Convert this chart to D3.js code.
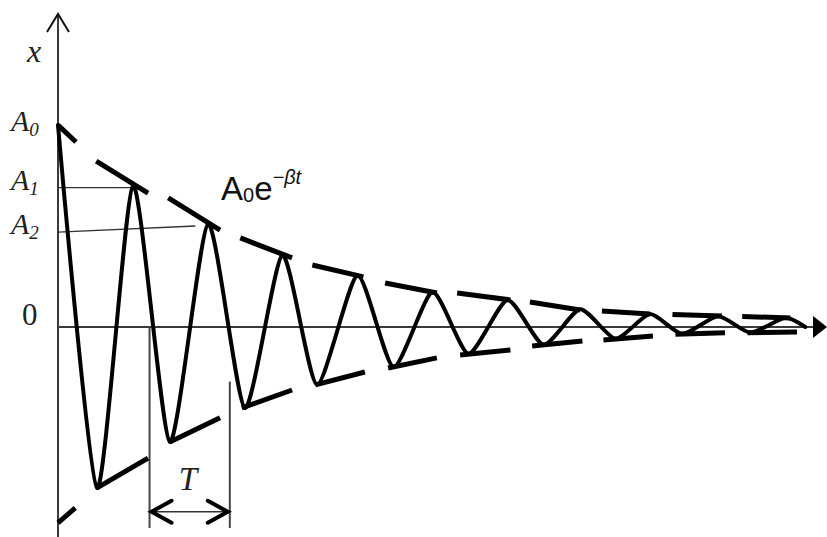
<!DOCTYPE html>
<html>
<head>
<meta charset="utf-8">
<script src="https://cdn.jsdelivr.net/npm/d3@7"></script>
<style>
  html, body { margin: 0; padding: 0; background: #fff; }
  svg { display: block; }
  .serif { font-family: "Liberation Serif", "DejaVu Serif", serif; }
  .sans { font-family: "Liberation Sans", Arial, sans-serif; }
</style>
</head>
<body>
<svg id="chart" width="827" height="537"></svg>
<script>
// Damped oscillation x(t): extrema of the displacement curve
const peakT   = [0, 1.0, 2.0, 2.99, 3.99, 4.99, 5.99, 6.96, 7.89, 8.8, 9.69];
const peakX   = [1.0, 0.70, 0.51, 0.355, 0.255, 0.173, 0.134, 0.088, 0.064, 0.053, 0.046];
const troughT = [0.52, 1.49, 2.49, 3.45, 4.47, 5.47, 6.47, 7.43, 8.32, 9.23, 9.96];
const troughX = [-0.797, -0.569, -0.401, -0.285, -0.198, -0.132, -0.088, -0.058, -0.034, -0.028, 0.0];

// Envelope ±A0·e^(−βt), drawn as dash segments [t0, x0, t1, x1]
const upperDashes = [
  [0, 1.0, 0.24, 0.916],
  [0.51, 0.822, 1.2, 0.663],
  [1.47, 0.639, 2.16, 0.48],
  [2.43, 0.441, 3.12, 0.342],
  [3.39, 0.307, 4.07, 0.248],
  [4.36, 0.218, 5.05, 0.168],
  [5.32, 0.168, 6.03, 0.134],
  [6.29, 0.124, 6.96, 0.084],
  [7.25, 0.079, 7.89, 0.064],
  [8.19, 0.062, 8.85, 0.054],
  [9.12, 0.052, 9.76, 0.045]
];
const lowerDashes = [
  [0, -0.97, 0.23, -0.896],
  [0.52, -0.797, 1.2, -0.649],
  [1.49, -0.569, 2.16, -0.45],
  [2.45, -0.401, 3.12, -0.312],
  [3.43, -0.287, 4.09, -0.223],
  [4.4, -0.203, 5.05, -0.153],
  [5.36, -0.139, 6.03, -0.114],
  [6.32, -0.094, 6.99, -0.069],
  [7.27, -0.064, 7.93, -0.045],
  [8.23, -0.036, 8.89, -0.029],
  [9.19, -0.028, 9.85, -0.025]
];

// Amplitude guide lines and the period marker
const a1Line = [[0, 0.69], [1.0, 0.69]];
const a2Line = [[0, 0.47], [1.83, 0.50]];
const periodMarks = [{ t: 1.22, top: 0.0 }, { t: 2.29, top: -0.27 }];
const periodArrowX = -0.915;
const markBottom = -0.995;

const tMax = 10.25;
const svg = d3.select("#chart");

const x = d3.scaleLinear().domain([0, tMax]).range([58, 827]);
const y = d3.scaleLinear().domain([-1.04, 1.56]).range([537, 12]);

// Axes
const axisColor = "#3a3a3a";
svg.append("line")
  .attr("x1", x(0)).attr("y1", y(-1.04)).attr("x2", x(0)).attr("y2", y(1.55))
  .attr("stroke", axisColor).attr("stroke-width", 2);
svg.append("path")
  .attr("d", `M${x(0) - 11},${y(1.55) + 18} L${x(0)},${y(1.55)} L${x(0) + 11},${y(1.55) + 18}`)
  .attr("fill", "none").attr("stroke", "#111").attr("stroke-width", 2);

svg.append("line")
  .attr("x1", x(0)).attr("y1", y(0)).attr("x2", x(tMax) - 8).attr("y2", y(0))
  .attr("stroke", axisColor).attr("stroke-width", 2);
svg.append("path")
  .attr("d", `M${x(tMax) - 14},${y(0) - 11} L${x(tMax)},${y(0)} L${x(tMax) - 14},${y(0) + 11} Z`)
  .attr("fill", "#000");

// Amplitude guide lines A1, A2
const guide = d3.line().x(d => x(d[0])).y(d => y(d[1]));
[a1Line, a2Line].forEach(l => {
  svg.append("path").attr("d", guide(l))
    .attr("fill", "none").attr("stroke", "#333").attr("stroke-width", 1.4);
});

// Period marker lines
periodMarks.forEach(m => {
  svg.append("line")
    .attr("x1", x(m.t)).attr("x2", x(m.t))
    .attr("y1", y(m.top)).attr("y2", y(markBottom))
    .attr("stroke", "#444").attr("stroke-width", 2);
});
const ax0 = x(periodMarks[0].t), ax1 = x(periodMarks[1].t), ay = y(periodArrowX);
svg.append("line")
  .attr("x1", ax0).attr("x2", ax1).attr("y1", ay).attr("y2", ay)
  .attr("stroke", "#333").attr("stroke-width", 1.5);
svg.append("path")
  .attr("d", `M${ax0 + 22},${ay - 11} L${ax0 + 2},${ay} L${ax0 + 22},${ay + 11}`)
  .attr("fill", "none").attr("stroke", "#000").attr("stroke-width", 4)
  .attr("stroke-linecap", "round").attr("stroke-linejoin", "miter");
svg.append("path")
  .attr("d", `M${ax1 - 22},${ay - 11} L${ax1 - 2},${ay} L${ax1 - 22},${ay + 11}`)
  .attr("fill", "none").attr("stroke", "#000").attr("stroke-width", 4)
  .attr("stroke-linecap", "round").attr("stroke-linejoin", "miter");

// Envelope dashes
[upperDashes, lowerDashes].forEach(set => {
  svg.append("g").selectAll("line").data(set).join("line")
    .attr("x1", d => x(d[0])).attr("y1", d => y(d[1]))
    .attr("x2", d => x(d[2])).attr("y2", d => y(d[3]))
    .attr("stroke", "#000").attr("stroke-width", 5)
    .attr("stroke-linecap", "butt");
});

// Displacement curve through alternating extrema
const pts = [];
peakT.forEach((t, i) => pts.push([t, peakX[i]]));
troughT.forEach((t, i) => pts.push([t, troughX[i]]));
pts.sort((a, b) => a[0] - b[0]);
svg.append("path")
  .attr("d", d3.line().x(d => x(d[0])).y(d => y(d[1])).curve(d3.curveCardinal.tension(0.35))(pts))
  .attr("fill", "none").attr("stroke", "#000").attr("stroke-width", 4)
  .attr("stroke-linejoin", "round").attr("stroke-linecap", "round");

// Labels
const serifIt = (tx, ty, txt, size) => svg.append("text")
  .attr("class", "serif").attr("x", tx).attr("y", ty)
  .attr("font-style", "italic").attr("font-size", size).attr("fill", "#222").text(txt);

serifIt(27, 62, "x", 32);

function ampLabel(level, sub) {
  const t = svg.append("text").attr("class", "serif")
    .attr("x", 11).attr("y", y(level) + 6)
    .attr("font-style", "italic").attr("font-size", 30).attr("fill", "#222");
  t.append("tspan").text("A");
  t.append("tspan").attr("font-size", 19).attr("dy", 5).text(sub);
}
ampLabel(peakX[0], "0");
ampLabel(a1Line[0][1] + 0.02, "1");
ampLabel(a2Line[0][1] + 0.02, "2");

svg.append("text").attr("class", "serif")
  .attr("x", 22).attr("y", y(0) - 2)
  .attr("font-size", 31).attr("fill", "#222").text("0");

serifIt((ax0 + ax1) / 2 - 11, y(periodArrowX) - 22, "T", 33);

const env = svg.append("text").attr("class", "sans")
  .attr("x", 221).attr("y", 200).attr("font-size", 33).attr("fill", "#111");
env.append("tspan").text("A");
env.append("tspan").attr("font-size", 20).attr("dy", 2).text("0");
env.append("tspan").attr("dy", -2).text("e");
env.append("tspan").attr("font-size", 20).attr("dy", -16).attr("font-style", "italic").text("−βt");
</script>
</body>
</html>
